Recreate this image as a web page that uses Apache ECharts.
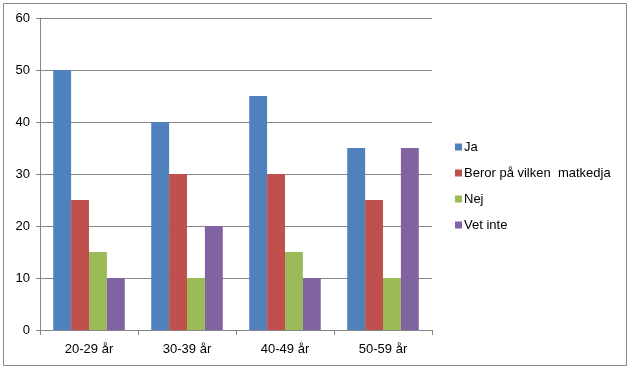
<!DOCTYPE html>
<html>
<head>
<meta charset="utf-8">
<script src="https://cdn.jsdelivr.net/npm/echarts@6/dist/echarts.min.js"></script>
<style>html,body{margin:0;padding:0;background:#fff;}#c{width:631px;height:371px;}</style>
</head>
<body>
<div id="c"></div>
<script>
var categories = ['20-29 år', '30-39 år', '40-49 år', '50-59 år'];
var seriesNames = ['Ja', 'Beror på vilken  matkedja', 'Nej', 'Vet inte'];
var ja = [50, 40, 45, 35];
var beror = [25, 30, 30, 25];
var nej = [15, 10, 15, 10];
var vetInte = [10, 20, 10, 35];
var yTicks = [0, 10, 20, 30, 40, 50, 60];
var colors = ['#4F81BD', '#C0504D', '#9BBB59', '#8064A2'];

var values = [ja, beror, nej, vetInte];
var chart = echarts.init(document.getElementById('c'), null, {renderer: 'canvas'});
var font = 'Liberation Sans, Arial, sans-serif';
chart.setOption({
  animation: false,
  textStyle: {fontFamily: font},
  graphic: [{
    type: 'rect', shape: {x: 3.5, y: 3.5, width: 623, height: 362},
    style: {fill: 'none', stroke: '#8a8a8a', lineWidth: 1}, silent: true
  }],
  grid: {left: 40, right: 199, top: 18, bottom: 41, containLabel: false},
  legend: {
    orient: 'vertical', left: 450, top: 135,
    itemWidth: 7, itemHeight: 7, itemGap: 12,
    icon: 'rect',
    textStyle: {fontSize: 13, color: '#000', fontFamily: font, lineHeight: 14, padding: [0, 0, 0, -3]},
    data: seriesNames
  },
  xAxis: {
    type: 'category', data: categories,
    axisLine: {lineStyle: {color: '#868686'}},
    axisTick: {show: true, length: 5, lineStyle: {color: '#868686'}},
    axisLabel: {color: '#000', fontSize: 13, margin: 13, fontFamily: font}
  },
  yAxis: {
    type: 'value', min: yTicks[0], max: yTicks[yTicks.length - 1], interval: 10,
    axisLine: {show: true, lineStyle: {color: '#868686'}},
    axisTick: {show: true, length: 4, lineStyle: {color: '#868686'}},
    splitLine: {lineStyle: {color: '#868686'}},
    axisLabel: {color: '#000', fontSize: 13, margin: 10, fontFamily: font}
  },
  series: seriesNames.map(function (n, i) {
    return {
      name: n, type: 'bar', data: values[i],
      itemStyle: {color: colors[i]},
      barGap: '0%', barCategoryGap: '27%'
    };
  })
});
</script>
</body>
</html>
